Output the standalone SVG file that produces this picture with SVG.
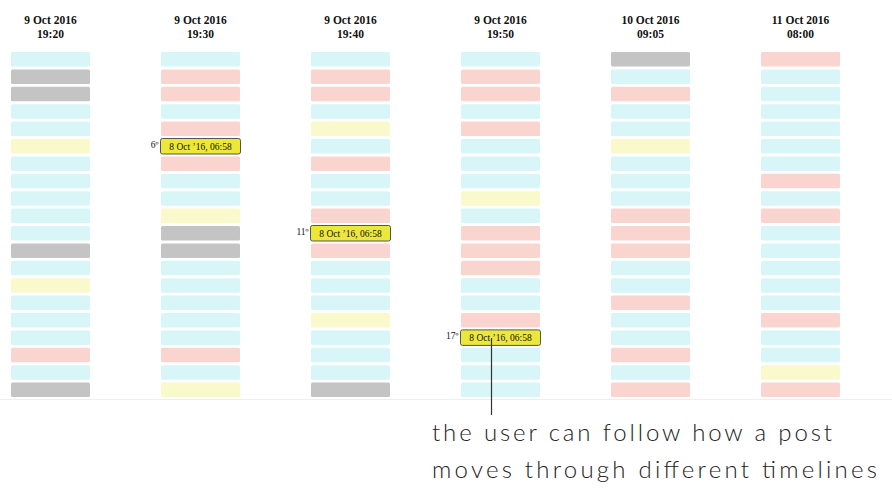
<svg xmlns="http://www.w3.org/2000/svg" width="892" height="491" viewBox="0 0 892 491">
<style>
.c{fill:#d8f5f7}
.p{fill:#fad5d0}
.g{fill:#c4c4c4}
.y{fill:#f9f9cc}
.h{fill:#ece83a;stroke:#555;stroke-width:1}
.hd{font-family:"Liberation Serif",serif;font-weight:bold;font-size:11.5px;fill:#111;text-anchor:middle}
.ht{font-family:"Liberation Serif",serif;font-size:9.5px;fill:#111;text-anchor:middle}
.rk{font-family:"Liberation Serif",serif;font-size:9.5px;fill:#111;text-anchor:end}
.cap{font-family:"Lato","Open Sans",sans-serif;font-weight:300;font-size:24px;fill:#222}
</style>
<rect width="892" height="491" fill="#fff"/>
<line x1="0" y1="399.5" x2="892" y2="399.5" stroke="#eeeeee" stroke-width="1"/>

<g id="col1">
<text class="hd" x="50.5" y="24">9 Oct 2016</text>
<text class="hd" x="50.5" y="38">19:20</text>
<rect class="c" x="11" y="52" width="79" height="14.5" rx="1.5"/>
<rect class="g" x="11" y="69.4" width="79" height="14.5" rx="1.5"/>
<rect class="g" x="11" y="86.8" width="79" height="14.5" rx="1.5"/>
<rect class="c" x="11" y="104.2" width="79" height="14.5" rx="1.5"/>
<rect class="c" x="11" y="121.6" width="79" height="14.5" rx="1.5"/>
<rect class="y" x="11" y="139" width="79" height="14.5" rx="1.5"/>
<rect class="c" x="11" y="156.4" width="79" height="14.5" rx="1.5"/>
<rect class="c" x="11" y="173.8" width="79" height="14.5" rx="1.5"/>
<rect class="c" x="11" y="191.2" width="79" height="14.5" rx="1.5"/>
<rect class="c" x="11" y="208.6" width="79" height="14.5" rx="1.5"/>
<rect class="c" x="11" y="226" width="79" height="14.5" rx="1.5"/>
<rect class="g" x="11" y="243.4" width="79" height="14.5" rx="1.5"/>
<rect class="c" x="11" y="260.8" width="79" height="14.5" rx="1.5"/>
<rect class="y" x="11" y="278.2" width="79" height="14.5" rx="1.5"/>
<rect class="c" x="11" y="295.6" width="79" height="14.5" rx="1.5"/>
<rect class="c" x="11" y="313" width="79" height="14.5" rx="1.5"/>
<rect class="c" x="11" y="330.4" width="79" height="14.5" rx="1.5"/>
<rect class="p" x="11" y="347.8" width="79" height="14.5" rx="1.5"/>
<rect class="c" x="11" y="365.2" width="79" height="14.5" rx="1.5"/>
<rect class="g" x="11" y="382.6" width="79" height="14.5" rx="1.5"/>
</g>

<g id="col2">
<text class="hd" x="200.5" y="24">9 Oct 2016</text>
<text class="hd" x="200.5" y="38">19:30</text>
<rect class="c" x="161" y="52" width="79" height="14.5" rx="1.5"/>
<rect class="p" x="161" y="69.4" width="79" height="14.5" rx="1.5"/>
<rect class="p" x="161" y="86.8" width="79" height="14.5" rx="1.5"/>
<rect class="c" x="161" y="104.2" width="79" height="14.5" rx="1.5"/>
<rect class="p" x="161" y="121.6" width="79" height="14.5" rx="1.5"/>
<rect class="p" x="161" y="156.4" width="79" height="14.5" rx="1.5"/>
<rect class="c" x="161" y="173.8" width="79" height="14.5" rx="1.5"/>
<rect class="c" x="161" y="191.2" width="79" height="14.5" rx="1.5"/>
<rect class="y" x="161" y="208.6" width="79" height="14.5" rx="1.5"/>
<rect class="g" x="161" y="226" width="79" height="14.5" rx="1.5"/>
<rect class="g" x="161" y="243.4" width="79" height="14.5" rx="1.5"/>
<rect class="c" x="161" y="260.8" width="79" height="14.5" rx="1.5"/>
<rect class="c" x="161" y="278.2" width="79" height="14.5" rx="1.5"/>
<rect class="c" x="161" y="295.6" width="79" height="14.5" rx="1.5"/>
<rect class="c" x="161" y="313" width="79" height="14.5" rx="1.5"/>
<rect class="c" x="161" y="330.4" width="79" height="14.5" rx="1.5"/>
<rect class="p" x="161" y="347.8" width="79" height="14.5" rx="1.5"/>
<rect class="c" x="161" y="365.2" width="79" height="14.5" rx="1.5"/>
<rect class="y" x="161" y="382.6" width="79" height="14.5" rx="1.5"/>
</g>

<g id="col3">
<text class="hd" x="350.5" y="24">9 Oct 2016</text>
<text class="hd" x="350.5" y="38">19:40</text>
<rect class="c" x="311" y="52" width="79" height="14.5" rx="1.5"/>
<rect class="p" x="311" y="69.4" width="79" height="14.5" rx="1.5"/>
<rect class="p" x="311" y="86.8" width="79" height="14.5" rx="1.5"/>
<rect class="c" x="311" y="104.2" width="79" height="14.5" rx="1.5"/>
<rect class="y" x="311" y="121.6" width="79" height="14.5" rx="1.5"/>
<rect class="c" x="311" y="139" width="79" height="14.5" rx="1.5"/>
<rect class="p" x="311" y="156.4" width="79" height="14.5" rx="1.5"/>
<rect class="c" x="311" y="173.8" width="79" height="14.5" rx="1.5"/>
<rect class="c" x="311" y="191.2" width="79" height="14.5" rx="1.5"/>
<rect class="p" x="311" y="208.6" width="79" height="14.5" rx="1.5"/>
<rect class="p" x="311" y="243.4" width="79" height="14.5" rx="1.5"/>
<rect class="c" x="311" y="260.8" width="79" height="14.5" rx="1.5"/>
<rect class="c" x="311" y="278.2" width="79" height="14.5" rx="1.5"/>
<rect class="c" x="311" y="295.6" width="79" height="14.5" rx="1.5"/>
<rect class="y" x="311" y="313" width="79" height="14.5" rx="1.5"/>
<rect class="c" x="311" y="330.4" width="79" height="14.5" rx="1.5"/>
<rect class="c" x="311" y="347.8" width="79" height="14.5" rx="1.5"/>
<rect class="c" x="311" y="365.2" width="79" height="14.5" rx="1.5"/>
<rect class="g" x="311" y="382.6" width="79" height="14.5" rx="1.5"/>
</g>

<g id="col4">
<text class="hd" x="500.5" y="24">9 Oct 2016</text>
<text class="hd" x="500.5" y="38">19:50</text>
<rect class="c" x="461" y="52" width="79" height="14.5" rx="1.5"/>
<rect class="p" x="461" y="69.4" width="79" height="14.5" rx="1.5"/>
<rect class="p" x="461" y="86.8" width="79" height="14.5" rx="1.5"/>
<rect class="c" x="461" y="104.2" width="79" height="14.5" rx="1.5"/>
<rect class="p" x="461" y="121.6" width="79" height="14.5" rx="1.5"/>
<rect class="c" x="461" y="139" width="79" height="14.5" rx="1.5"/>
<rect class="c" x="461" y="156.4" width="79" height="14.5" rx="1.5"/>
<rect class="c" x="461" y="173.8" width="79" height="14.5" rx="1.5"/>
<rect class="y" x="461" y="191.2" width="79" height="14.5" rx="1.5"/>
<rect class="c" x="461" y="208.6" width="79" height="14.5" rx="1.5"/>
<rect class="p" x="461" y="226" width="79" height="14.5" rx="1.5"/>
<rect class="p" x="461" y="243.4" width="79" height="14.5" rx="1.5"/>
<rect class="p" x="461" y="260.8" width="79" height="14.5" rx="1.5"/>
<rect class="c" x="461" y="278.2" width="79" height="14.5" rx="1.5"/>
<rect class="c" x="461" y="295.6" width="79" height="14.5" rx="1.5"/>
<rect class="p" x="461" y="313" width="79" height="14.5" rx="1.5"/>
<rect class="c" x="461" y="347.8" width="79" height="14.5" rx="1.5"/>
<rect class="c" x="461" y="365.2" width="79" height="14.5" rx="1.5"/>
<rect class="c" x="461" y="382.6" width="79" height="14.5" rx="1.5"/>
</g>

<g id="col5">
<text class="hd" x="650.5" y="24">10 Oct 2016</text>
<text class="hd" x="650.5" y="38">09:05</text>
<rect class="g" x="611" y="52" width="79" height="14.5" rx="1.5"/>
<rect class="c" x="611" y="69.4" width="79" height="14.5" rx="1.5"/>
<rect class="p" x="611" y="86.8" width="79" height="14.5" rx="1.5"/>
<rect class="c" x="611" y="104.2" width="79" height="14.5" rx="1.5"/>
<rect class="c" x="611" y="121.6" width="79" height="14.5" rx="1.5"/>
<rect class="y" x="611" y="139" width="79" height="14.5" rx="1.5"/>
<rect class="c" x="611" y="156.4" width="79" height="14.5" rx="1.5"/>
<rect class="c" x="611" y="173.8" width="79" height="14.5" rx="1.5"/>
<rect class="c" x="611" y="191.2" width="79" height="14.5" rx="1.5"/>
<rect class="p" x="611" y="208.6" width="79" height="14.5" rx="1.5"/>
<rect class="p" x="611" y="226" width="79" height="14.5" rx="1.5"/>
<rect class="p" x="611" y="243.4" width="79" height="14.5" rx="1.5"/>
<rect class="c" x="611" y="260.8" width="79" height="14.5" rx="1.5"/>
<rect class="c" x="611" y="278.2" width="79" height="14.5" rx="1.5"/>
<rect class="p" x="611" y="295.6" width="79" height="14.5" rx="1.5"/>
<rect class="c" x="611" y="313" width="79" height="14.5" rx="1.5"/>
<rect class="c" x="611" y="330.4" width="79" height="14.5" rx="1.5"/>
<rect class="p" x="611" y="347.8" width="79" height="14.5" rx="1.5"/>
<rect class="c" x="611" y="365.2" width="79" height="14.5" rx="1.5"/>
<rect class="p" x="611" y="382.6" width="79" height="14.5" rx="1.5"/>
</g>

<g id="col6">
<text class="hd" x="800.5" y="24">11 Oct 2016</text>
<text class="hd" x="800.5" y="38">08:00</text>
<rect class="p" x="761" y="52" width="79" height="14.5" rx="1.5"/>
<rect class="c" x="761" y="69.4" width="79" height="14.5" rx="1.5"/>
<rect class="c" x="761" y="86.8" width="79" height="14.5" rx="1.5"/>
<rect class="c" x="761" y="104.2" width="79" height="14.5" rx="1.5"/>
<rect class="c" x="761" y="121.6" width="79" height="14.5" rx="1.5"/>
<rect class="c" x="761" y="139" width="79" height="14.5" rx="1.5"/>
<rect class="c" x="761" y="156.4" width="79" height="14.5" rx="1.5"/>
<rect class="p" x="761" y="173.8" width="79" height="14.5" rx="1.5"/>
<rect class="c" x="761" y="191.2" width="79" height="14.5" rx="1.5"/>
<rect class="p" x="761" y="208.6" width="79" height="14.5" rx="1.5"/>
<rect class="c" x="761" y="226" width="79" height="14.5" rx="1.5"/>
<rect class="c" x="761" y="243.4" width="79" height="14.5" rx="1.5"/>
<rect class="c" x="761" y="260.8" width="79" height="14.5" rx="1.5"/>
<rect class="c" x="761" y="278.2" width="79" height="14.5" rx="1.5"/>
<rect class="c" x="761" y="295.6" width="79" height="14.5" rx="1.5"/>
<rect class="p" x="761" y="313" width="79" height="14.5" rx="1.5"/>
<rect class="c" x="761" y="330.4" width="79" height="14.5" rx="1.5"/>
<rect class="c" x="761" y="347.8" width="79" height="14.5" rx="1.5"/>
<rect class="y" x="761" y="365.2" width="79" height="14.5" rx="1.5"/>
<rect class="p" x="761" y="382.6" width="79" height="14.5" rx="1.5"/>
</g>

<g id="post1">
<rect class="h" x="160.5" y="138.5" width="80" height="15.5" rx="2"/>
<text class="ht" x="200.5" y="149.5">8 Oct ’16, 06:58</text>
<text class="rk" x="158.5" y="147.5">6º</text>
</g>
<g id="post2">
<rect class="h" x="310.5" y="225.5" width="80" height="15.5" rx="2"/>
<text class="ht" x="350.5" y="236.5">8 Oct ’16, 06:58</text>
<text class="rk" x="308.5" y="234.5">11º</text>
</g>
<g id="post3">
<rect class="h" x="460.5" y="329.9" width="80" height="15.5" rx="2"/>
<text class="ht" x="500.5" y="340.9">8 Oct ’16, 06:58</text>
<text class="rk" x="458.5" y="338.9">17º</text>
</g>

<g id="connectors">
<line x1="491.5" y1="338" x2="491.5" y2="415" stroke="#333" stroke-width="1.2"/>
</g>

<g id="caption">
<text class="cap" x="432" y="441" textLength="400" lengthAdjust="spacing">the user can follow how a post</text>
<text class="cap" x="432" y="478" textLength="445" lengthAdjust="spacing">moves through different timelines</text>
</g>
</svg>
